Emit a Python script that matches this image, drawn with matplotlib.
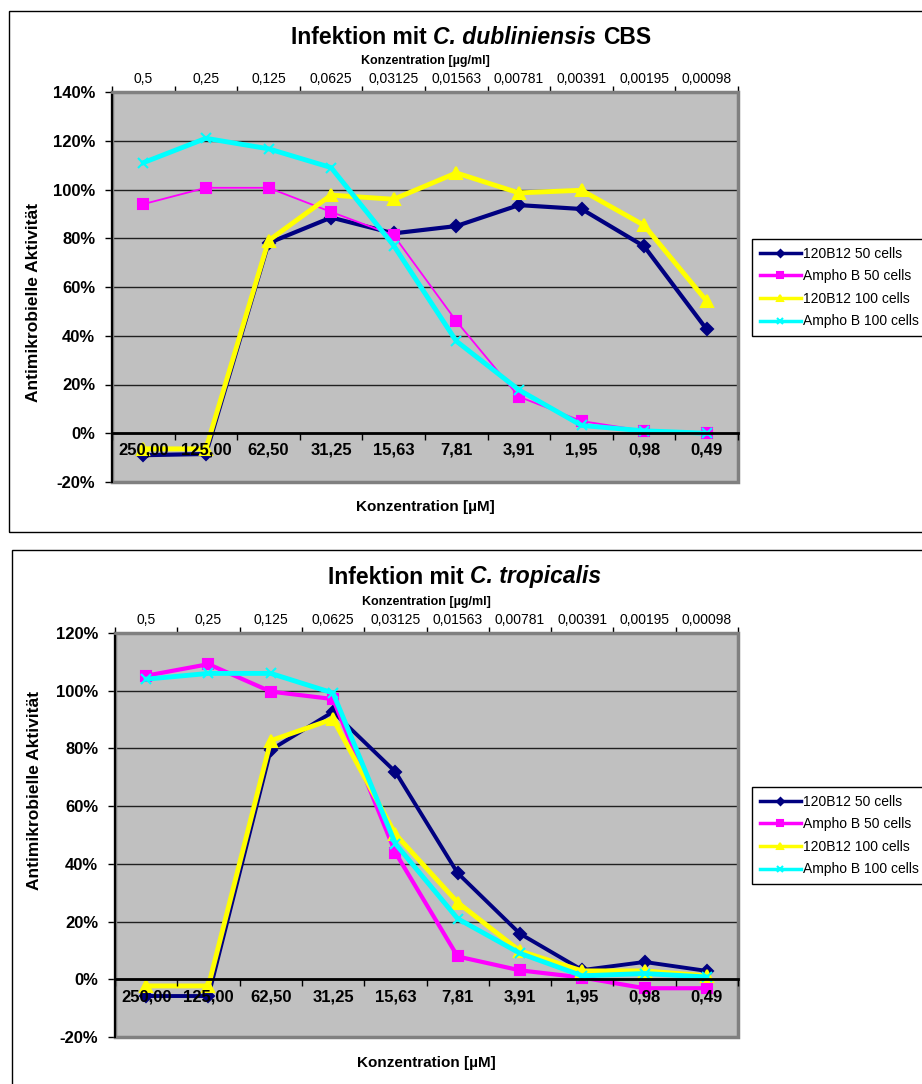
"""Antimikrobielle Aktivität von 120B12 und Amphotericin B gegen zwei Candida-Stämme."""
import matplotlib

matplotlib.use("Agg")
import matplotlib.pyplot as plt
from matplotlib.patches import Rectangle

plt.rcParams["font.family"] = ["Liberation Sans", "DejaVu Sans"]

W, H = 922, 1084

# --- data -------------------------------------------------------------------
conc_um = ["250,00", "125,00", "62,50", "31,25", "15,63", "7,81", "3,91", "1,95", "0,98", "0,49"]
conc_ug = ["0,5", "0,25", "0,125", "0,0625", "0,03125", "0,01563", "0,00781",
           "0,00391", "0,00195", "0,00098"]
series_names = ["120B12 50 cells", "Ampho B 50 cells", "120B12 100 cells", "Ampho B 100 cells"]

dub_120_50 = [-9, -8.5, 78, 88.5, 82, 85, 93.6, 92, 76.7, 42.6]
dub_amp_50 = [94, 100.7, 100.7, 90.8, 81.2, 46, 15, 5, 1, 0]
dub_120_100 = [-6.4, -6.4, 79, 97.7, 96, 106.8, 98.6, 99.7, 85.3, 54.2]
dub_amp_100 = [111, 121, 116.7, 109, 77, 37.8, 17.8, 3.2, 1, 0]

trop_120_50 = [-5.8, -5.8, 79.5, 92.7, 71.9, 36.8, 15.8, 3.2, 6, 2.9]
trop_amp_50 = [105.2, 109.2, 99.7, 97.1, 43.9, 7.9, 3.1, 0.6, -3.1, -3.1]
trop_120_100 = [-2.3, -2.3, 82.7, 90.2, 50.3, 26.6, 9.8, 2.9, 2.9, 1.2]
trop_amp_100 = [104, 106, 106, 99.2, 47, 21, 9, 1.2, 2, 0.8]

dub_yticks = [-20, 0, 20, 40, 60, 80, 100, 120, 140]
trop_yticks = [-20, 0, 20, 40, 60, 80, 100, 120]

# --- styling ------------------------------------------------------------------
COLORS = ["#000080", "#FF00FF", "#FFFF00", "#00FFFF"]
MARKERS = ["D", "s", "^", "x"]
MSIZES = [6, 7, 8, 7]
TITLE_SIZE = 16.5


def px(x, y):
    return x / W, 1 - y / H


def mixed_title(x, y, parts):
    """Bold title made of upright and italic pieces, centred on (x, y) in pixels."""
    renderer = fig.canvas.get_renderer()
    gap = 0.278 * TITLE_SIZE * 100 / 72  # width of one space
    texts = [fig.text(0, px(x, y)[1], s, fontsize=TITLE_SIZE, fontweight="bold",
                      style=style, va="center", ha="left")
             for s, style in parts]
    widths = [t.get_window_extent(renderer).width for t in texts]
    start = x - (sum(widths) + gap * (len(texts) - 1)) / 2
    for t, w in zip(texts, widths):
        t.set_x(start / W)
        start += w + gap


def draw_chart(box, frame, title_parts, title_xy, top_label_y, bottom_label_y,
               ylabel_xy, legend_xy, yticks, series, widths):
    left, top, right, bottom = box
    x0, y0 = px(left, bottom)
    ax = fig.add_axes([x0, y0, (right - left) / W, (bottom - top) / H])
    ax.set_facecolor("#C0C0C0")

    fig.add_artist(Rectangle(px(frame[0], frame[3]), (frame[2] - frame[0]) / W,
                             (frame[3] - frame[1]) / H, transform=fig.transFigure,
                             fill=False, edgecolor="black", lw=1))

    xs = list(range(len(conc_um)))
    for vals, name, c, m, ms, lw in zip(series, series_names, COLORS, MARKERS, MSIZES, widths):
        ax.plot(xs, vals, color=c, lw=lw, marker=m, ms=ms, mew=1.5, label=name,
                clip_on=False)

    ax.set_xlim(-0.5, len(xs) - 0.5)
    ax.set_ylim(yticks[0], yticks[-1])

    # y axis
    ax.set_yticks(yticks, labels=[f"{v}%" for v in yticks])
    ax.tick_params(axis="y", direction="out", length=5, width=1, pad=7,
                   labelsize=12)
    for t in ax.get_yticklabels():
        t.set_fontweight("bold")
    ax.set_axisbelow(True)
    ax.yaxis.grid(True, color="#202020", lw=1)

    # category axis sitting on the zero line
    ax.spines["bottom"].set_position(("data", 0))
    ax.spines["bottom"].set_color("black")
    ax.spines["bottom"].set_linewidth(2)
    ax.spines["left"].set_color("black")
    ax.spines["left"].set_linewidth(1.5)
    for s in ("top", "right"):
        ax.spines[s].set_color("#808080")
        ax.spines[s].set_linewidth(2)
    ax.add_patch(Rectangle((0, 0), 1, 1, transform=ax.transAxes, fill=False,
                           edgecolor="#808080", lw=2.5, clip_on=False, zorder=0.8))
    bounds = [i - 0.5 for i in range(len(xs) + 1)]
    ax.set_xticks(bounds, labels=[])
    ax.set_xticks(xs, labels=conc_um, minor=True)
    ax.tick_params(axis="x", which="major", direction="out", length=5, width=1)
    ax.tick_params(axis="x", which="minor", length=0, pad=7, labelsize=12)
    for t in ax.get_xticklabels(minor=True):
        t.set_fontweight("bold")
    ax.xaxis.set_zorder(3)

    # secondary category axis on top (µg/ml)
    sec = ax.secondary_xaxis("top")
    sec.set_xticks(bounds, labels=[])
    sec.set_xticks(xs, labels=conc_ug, minor=True)
    sec.tick_params(axis="x", which="major", direction="out", length=4, width=1)
    sec.tick_params(axis="x", which="minor", length=0, pad=4, labelsize=10)
    sec.spines["top"].set_color("#808080")
    sec.spines["top"].set_linewidth(2)

    cx = (left + right) / 2
    mixed_title(*title_xy, title_parts)
    fig.text(*px(cx, top_label_y), "Konzentration [µg/ml]", fontsize=9,
             fontweight="bold", ha="center", va="center")
    fig.text(*px(cx, bottom_label_y), "Konzentration [µM]", fontsize=11,
             fontweight="bold", ha="center", va="center")
    fig.text(*px(*ylabel_xy), "Antimikrobielle Aktivität", fontsize=12.5,
             fontweight="bold", rotation=90, ha="center", va="center")

    leg = ax.legend(loc="upper left", bbox_to_anchor=px(*legend_xy),
                    bbox_transform=fig.transFigure, fontsize=10, frameon=True,
                    fancybox=False, edgecolor="black", framealpha=1,
                    handlelength=3.0, handletextpad=0.15, labelspacing=0.62,
                    borderpad=0.55, borderaxespad=0, markerscale=0.6)
    leg.get_frame().set_linewidth(1)
    for line in leg.get_lines():
        line.set_linewidth(2.5)
    return ax


fig = plt.figure(figsize=(W / 100, H / 100), dpi=100)

draw_chart(
    box=(112, 92, 738, 482), frame=(9, 11, 940, 532),
    title_parts=[("Infektion mit", "normal"), ("C. dubliniensis", "italic"), ("CBS", "normal")],
    title_xy=(471, 37),
    top_label_y=61, bottom_label_y=507, ylabel_xy=(33, 302),
    legend_xy=(752, 239), yticks=dub_yticks,
    series=[dub_120_50, dub_amp_50, dub_120_100, dub_amp_100],
    widths=[3, 1.3, 3.5, 3.5],
)

draw_chart(
    box=(115, 633, 738, 1037), frame=(12, 550, 940, 1100),
    title_parts=[("Infektion mit", "normal"), ("C. tropicalis", "italic")],
    title_xy=(465, 577),
    top_label_y=602, bottom_label_y=1063, ylabel_xy=(35, 790),
    legend_xy=(752, 787), yticks=trop_yticks,
    series=[trop_120_50, trop_amp_50, trop_120_100, trop_amp_100],
    widths=[2.8, 3, 3.5, 3.5],
)

fig.savefig("out.png", dpi=100)
